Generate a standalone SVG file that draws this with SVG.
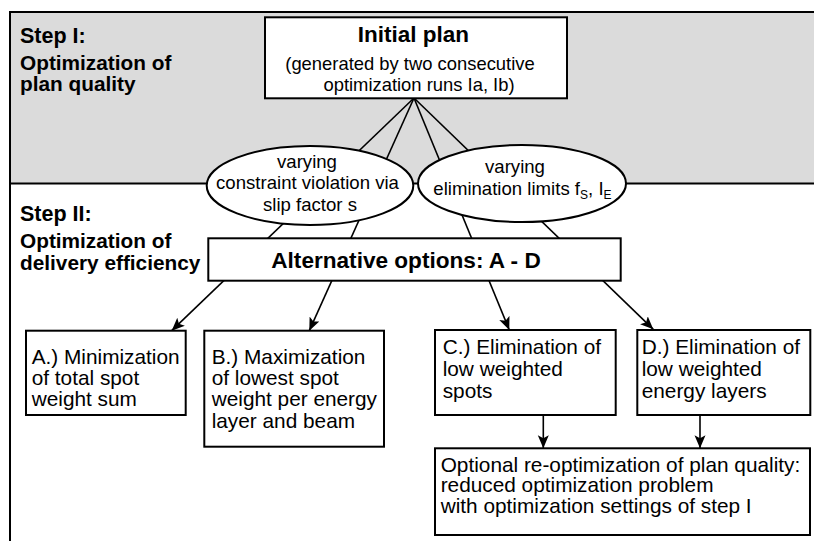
<svg xmlns="http://www.w3.org/2000/svg" width="814" height="541" viewBox="0 0 814 541">
<defs>
<style>
.frame{fill:none;stroke:#000;stroke-width:2}
.box{fill:#fff;stroke:#000;stroke-width:2}
.con{fill:none;stroke:#000;stroke-width:1.6}
.t{font-family:"Liberation Sans",Arial,sans-serif;fill:#000}
.title{font-weight:bold;font-size:20.8px}
.bt{font-size:20.8px}
.et{font-size:18.6px}
</style>
<marker id="arr" markerUnits="userSpaceOnUse" markerWidth="14" markerHeight="12" refX="13" refY="5.5" orient="auto">
<path d="M0,0 L13,5.5 L0,11 L3,5.5 z" fill="#000"/>
</marker>
</defs>
<rect x="10" y="12" width="806" height="171.5" fill="#dbdbdb"/>
<path class="frame" d="M816,12 H10 V543 M10,183.5 H816"/>
<g id="labels" class="t title">
<text x="20" y="42.7" font-size="21.5px">Step I:</text>
<text x="20" y="69.8">Optimization of</text>
<text x="20" y="90.7">plan quality</text>
<text x="20" y="220.7" font-size="21.5px">Step II:</text>
<text x="20" y="248.3">Optimization of</text>
<text x="20" y="270">delivery efficiency</text>
</g>
<g id="connectors">
<line class="con" x1="414" y1="98" x2="171.7" y2="330.7" marker-end="url(#arr)"/>
<line class="con" x1="414" y1="98" x2="309.3" y2="330.7" marker-end="url(#arr)"/>
<line class="con" x1="414" y1="98" x2="509.3" y2="330" marker-end="url(#arr)"/>
<line class="con" x1="414" y1="98" x2="653.3" y2="329.3" marker-end="url(#arr)"/>
<line class="con" x1="543.3" y1="415" x2="543.3" y2="448.3" marker-end="url(#arr)"/>
<line class="con" x1="700" y1="415" x2="700" y2="448.3" marker-end="url(#arr)"/>
</g>
<g id="initial">
<rect class="box" x="265" y="17.3" width="302" height="81"/>
<text class="t" x="413.5" y="42" text-anchor="middle" font-weight="bold" font-size="22.5px">Initial plan</text>
<text class="t" x="410" y="70" text-anchor="middle" font-size="18.4px">(generated by two consecutive</text>
<text class="t" x="419" y="91" text-anchor="middle" font-size="18.4px">optimization runs Ia, Ib)</text>
</g>
<g id="ellipse-slip">
<ellipse class="box" cx="310" cy="185.5" rx="103.3" ry="39.5"/>
<text class="t et" x="307" y="168.3" text-anchor="middle">varying</text>
<text class="t et" x="307.5" y="189.3" text-anchor="middle">constraint violation via</text>
<text class="t et" x="310" y="210.7" text-anchor="middle">slip factor s</text>
</g>
<g id="ellipse-limits">
<ellipse class="box" cx="522" cy="183.5" rx="104" ry="38.5"/>
<text class="t et" x="515" y="173.3" text-anchor="middle">varying</text>
<text class="t et" x="433.3" y="195">elimination limits f<tspan font-size="12px" dy="4">S</tspan><tspan dy="-4">, I</tspan><tspan font-size="12px" dy="4">E</tspan></text>
</g>
<g id="alternatives">
<rect class="box" x="208.3" y="238.3" width="412.4" height="42.4"/>
<text class="t" x="406" y="268" text-anchor="middle" font-weight="bold" font-size="22.6px">Alternative options: A - D</text>
</g>
<g id="optA">
<rect class="box" x="26" y="330.7" width="159.7" height="84.3"/>
<text class="t bt" x="31.7" y="364">A.) Minimization</text>
<text class="t bt" x="31.7" y="385.3">of total spot</text>
<text class="t bt" x="31.7" y="406.3">weight sum</text>
</g>
<g id="optB">
<rect class="box" x="204.3" y="330.7" width="179.7" height="116"/>
<text class="t bt" x="211.7" y="364">B.) Maximization</text>
<text class="t bt" x="211.7" y="385.3">of lowest spot</text>
<text class="t bt" x="211.7" y="406.3">weight per energy</text>
<text class="t bt" x="211.7" y="428">layer and beam</text>
</g>
<g id="optC">
<rect class="box" x="435" y="330" width="180.7" height="85"/>
<text class="t bt" x="442.7" y="354">C.) Elimination of</text>
<text class="t bt" x="442.7" y="376.3">low weighted</text>
<text class="t bt" x="442.7" y="397.5">spots</text>
</g>
<g id="optD">
<rect class="box" x="637.3" y="330" width="173" height="85"/>
<text class="t bt" x="641.7" y="354">D.) Elimination of</text>
<text class="t bt" x="641.7" y="376.3">low weighted</text>
<text class="t bt" x="641.7" y="397.5">energy layers</text>
</g>
<g id="reopt">
<rect class="box" x="435" y="448.3" width="375" height="86.7"/>
<text class="t bt" x="440.7" y="471.7">Optional re-optimization of plan quality:</text>
<text class="t bt" x="440.7" y="492.3">reduced optimization problem</text>
<text class="t bt" x="440.7" y="512.9">with optimization settings of step I</text>
</g>
</svg>
